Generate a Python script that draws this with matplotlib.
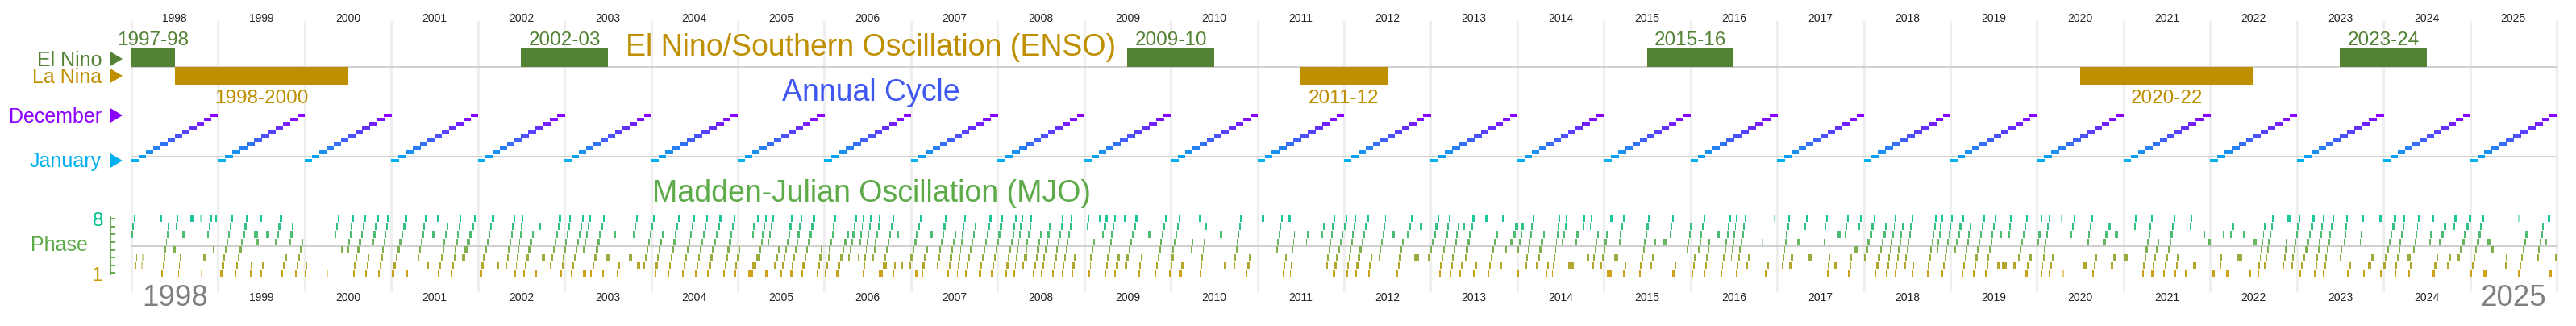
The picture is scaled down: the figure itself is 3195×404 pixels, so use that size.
import matplotlib
matplotlib.use("Agg")
import matplotlib.pyplot as plt
from matplotlib.patches import Polygon
from matplotlib.transforms import blended_transform_factory
import numpy as np

plt.rcParams['font.family'] = ['Liberation Sans', 'DejaVu Sans']

W, H, DPI = 3195, 404, 100

# ---------------------------------------------------------------- data
years = list(range(1998, 2026))
months = list(range(1, 13))
month_names = ["January", "February", "March", "April", "May", "June", "July",
               "August", "September", "October", "November", "December"]

enso_labels = ["1997-98", "1998-2000", "2002-03", "2009-10", "2011-12",
               "2015-16", "2020-22", "2023-24"]
enso_kind = ["El Nino", "La Nina", "El Nino", "El Nino", "La Nina",
             "El Nino", "La Nina", "El Nino"]
enso_start = [1997.5, 1998.5, 2002.5, 2009.5, 2011.5, 2015.5, 2020.5, 2023.5]
enso_end = [1998.5, 2000.5, 2003.5, 2010.5, 2012.5, 2016.5, 2022.5, 2024.5]

# MJO active episodes: (start day of year, first phase, last phase, length in days[, alpha])
mjo_1998 = [(1, 6, 3, 23), (42, 2, 3, 7, .45), (122, 8, 7, 37), (177, 4, 4, 9), (188, 7, 3, 20),
            (215, 6, 6, 9), (249, 8, 8, 11), (290, 8, 1, 6, .45), (301, 3, 3, 13), (320, 6, 8, 19),
            (344, 4, 5, 6), (352, 8, 8, 8)]
mjo_1999 = [(10, 1, 8, 52), (70, 1, 8, 55), (135, 1, 2, 9), (152, 6, 6, 15), (162, 5, 5, 9),
            (177, 8, 8, 6), (180, 1, 2, 11), (204, 6, 6, 10), (240, 5, 8, 28), (265, 1, 3, 24),
            (299, 5, 7, 19), (324, 1, 5, 33)]
mjo_2000 = [(0, 1, 2, 9), (92, 8, 1, 6, .45), (128, 6, 8, 16), (154, 4, 4, 8), (180, 4, 8, 25),
            (203, 1, 3, 17), (222, 4, 8, 37), (256, 1, 3, 15), (282, 5, 8, 31), (311, 1, 8, 43)]
mjo_2001 = [(2, 1, 8, 64), (61, 1, 1, 9), (112, 3, 8, 35), (149, 2, 2, 8), (174, 6, 6, 11),
            (191, 8, 7, 48), (252, 1, 8, 43), (299, 3, 8, 60)]
mjo_2002 = [(8, 1, 8, 58), (80, 2, 2, 8), (116, 2, 8, 41), (155, 1, 8, 36), (190, 1, 6, 45),
            (240, 1, 1, 7), (257, 7, 7, 9), (269, 3, 3, 11), (303, 2, 8, 46), (348, 1, 8, 43)]
mjo_2003 = [(27, 1, 8, 53), (78, 1, 1, 11), (78, 4, 8, 32), (107, 1, 1, 8), (118, 2, 8, 51),
            (158, 1, 1, 7), (175, 3, 3, 17), (206, 6, 6, 8), (220, 1, 2, 11), (271, 3, 3, 14),
            (288, 6, 8, 19), (305, 2, 2, 14), (333, 2, 8, 45)]
mjo_2004 = [(14, 1, 6, 36), (70, 1, 8, 49), (130, 1, 8, 53), (184, 1, 8, 55), (235, 1, 8, 61),
            (303, 1, 8, 51), (349, 1, 4, 26)]
mjo_2005 = [(45, 1, 3, 50), (62, 6, 7, 8), (83, 8, 8, 7), (91, 4, 8, 31), (117, 1, 1, 8),
            (125, 5, 8, 26), (153, 2, 4, 23), (176, 1, 1, 8), (188, 2, 8, 43), (222, 1, 8, 49),
            (266, 1, 8, 59), (332, 1, 4, 25)]
mjo_2006 = [(3, 1, 8, 45), (49, 1, 6, 52), (100, 3, 8, 37), (140, 3, 8, 25), (160, 1, 8, 38),
            (202, 3, 8, 34), (230, 1, 2, 32), (253, 3, 8, 40), (289, 1, 2, 11), (307, 6, 6, 6),
            (321, 2, 2, 9), (355, 2, 8, 56)]
mjo_2007 = [(17, 1, 1, 8), (43, 1, 4, 27), (82, 6, 6, 9), (108, 2, 8, 42), (153, 1, 6, 36),
            (193, 1, 8, 36), (227, 1, 7, 48), (287, 1, 8, 51), (337, 1, 8, 51)]
mjo_2008 = [(32, 1, 8, 48), (68, 1, 8, 37), (100, 2, 3, 23), (117, 4, 8, 28), (149, 1, 6, 36),
            (182, 1, 7, 41), (230, 1, 8, 48), (270, 1, 8, 45), (310, 1, 3, 19)]
mjo_2009 = [(12, 7, 2, 15), (24, 3, 5, 19), (63, 8, 8, 6), (75, 6, 8, 23), (86, 1, 8, 45),
            (126, 1, 3, 23), (166, 8, 8, 6), (172, 2, 8, 51), (228, 1, 3, 14), (268, 6, 6, 11),
            (296, 1, 8, 50), (359, 1, 3, 17)]
mjo_2010 = [(0, 3, 8, 40), (35, 1, 2, 19), (83, 4, 5, 11), (117, 8, 8, 8), (122, 1, 7, 28),
            (207, 6, 6, 9), (224, 2, 2, 6), (264, 2, 8, 34), (315, 1, 3, 23)]
mjo_2011 = [(18, 8, 8, 11), (78, 4, 3, 44), (129, 8, 8, 10), (137, 1, 6, 20), (205, 5, 6, 8),
            (268, 6, 7, 17), (290, 2, 8, 36), (319, 1, 3, 19), (341, 4, 6, 20)]
mjo_2012 = [(0, 7, 8, 12), (10, 1, 8, 39), (44, 1, 8, 59), (101, 1, 3, 17), (146, 3, 8, 31),
            (203, 6, 6, 11), (220, 1, 5, 31), (265, 6, 8, 25), (296, 3, 3, 18), (320, 7, 7, 8),
            (355, 3, 8, 45)]
mjo_2013 = [(35, 1, 8, 48), (80, 1, 7, 40), (120, 1, 2, 14), (137, 7, 7, 8), (143, 3, 8, 40),
            (177, 1, 2, 17), (231, 8, 6, 50), (290, 2, 2, 8), (302, 8, 1, 9), (313, 4, 4, 8),
            (336, 5, 7, 30)]
mjo_2014 = [(0, 4, 7, 25), (0, 1, 1, 7), (33, 2, 8, 37), (78, 2, 6, 37), (118, 1, 2, 14),
            (146, 1, 8, 34), (188, 5, 8, 23), (214, 2, 2, 23), (243, 5, 6, 14), (277, 7, 8, 7),
            (294, 3, 3, 6), (305, 7, 8, 8), (316, 2, 6, 26), (350, 2, 6, 31)]
mjo_2015 = [(14, 1, 1, 17), (27, 8, 8, 7), (42, 3, 3, 17), (62, 5, 8, 23), (82, 1, 2, 11),
            (147, 1, 8, 45), (195, 2, 3, 13), (212, 5, 5, 6), (252, 5, 5, 14), (277, 6, 8, 15),
            (289, 1, 2, 16), (348, 4, 8, 25)]
mjo_2016 = [(6, 1, 3, 15), (32, 4, 8, 28), (57, 1, 5, 25), (113, 6, 6, 8), (127, 1, 8, 41),
            (170, 3, 8, 25), (190, 1, 8, 44), (236, 2, 3, 10), (304, 5, 5, 3, .45), (312, 1, 2, 17),
            (350, 8, 8, 4, .45)]
mjo_2017 = [(19, 2, 8, 34), (51, 2, 3, 14), (85, 5, 5, 11), (116, 7, 8, 11), (133, 3, 3, 14),
            (195, 5, 3, 28), (240, 2, 2, 11), (255, 6, 6, 14), (286, 6, 3, 28), (323, 4, 4, 16),
            (339, 7, 8, 20)]
mjo_2018 = [(0, 3, 8, 49), (45, 1, 7, 53), (94, 1, 8, 42), (130, 1, 7, 36), (170, 2, 8, 37),
            (204, 1, 2, 8), (266, 1, 8, 40), (306, 4, 8, 26), (329, 1, 8, 45)]
mjo_2019 = [(15, 4, 8, 40), (49, 1, 7, 37), (94, 1, 8, 51), (146, 1, 8, 45), (197, 2, 2, 14),
            (208, 6, 6, 9), (219, 2, 2, 17), (240, 5, 8, 17), (264, 2, 2, 14), (287, 3, 8, 37),
            (315, 1, 3, 26)]
mjo_2020 = [(0, 5, 6, 14), (17, 8, 8, 4), (17, 1, 8, 36), (51, 1, 3, 17), (100, 8, 1, 14, .5),
            (142, 6, 8, 17), (193, 2, 2, 14), (210, 5, 8, 26), (232, 1, 3, 19), (278, 5, 7, 31),
            (312, 2, 3, 17), (329, 6, 6, 11)]
mjo_2021 = [(3, 3, 3, 14), (43, 7, 8, 11), (77, 1, 8, 45), (117, 1, 5, 32), (168, 1, 8, 49),
            (213, 1, 3, 20), (259, 1, 1, 9), (279, 7, 8, 8), (293, 2, 2, 11), (336, 6, 6, 8),
            (358, 5, 5, 7)]
mjo_2022 = [(5, 1, 1, 14), (39, 2, 3, 11), (52, 6, 6, 8), (66, 1, 1, 11), (84, 6, 7, 14),
            (115, 3, 3, 17), (137, 6, 6, 11), (163, 1, 1, 8), (180, 5, 5, 14), (200, 1, 7, 31),
            (228, 2, 8, 40), (307, 2, 5, 17), (322, 8, 8, 14), (341, 2, 8, 37)]
mjo_2023 = [(10, 1, 8, 65), (73, 1, 8, 42), (110, 1, 8, 45), (180, 3, 4, 11), (197, 5, 8, 17),
            (211, 1, 2, 15), (265, 5, 1, 19), (300, 2, 3, 25), (348, 8, 8, 8), (350, 1, 1, 11)]
mjo_2024 = [(0, 2, 8, 52), (46, 1, 8, 45), (98, 3, 3, 17), (105, 1, 2, 11), (126, 4, 8, 25),
            (194, 5, 8, 17), (207, 1, 3, 23), (234, 5, 7, 28), (268, 2, 3, 14), (291, 7, 8, 17),
            (313, 3, 8, 54)]
mjo_2025 = [(0, 1, 8, 58), (56, 1, 1, 17), (73, 5, 5, 11), (90, 4, 4, 9), (146, 2, 3, 11),
            (203, 1, 6, 37), (203, 8, 8, 4, .45), (282, 3, 7, 28), (316, 5, 5, 8), (328, 8, 1, 14),
            (357, 3, 3, 11)]

mjo_by_year = {
    1998: mjo_1998, 1999: mjo_1999, 2000: mjo_2000, 2001: mjo_2001, 2002: mjo_2002,
    2003: mjo_2003, 2004: mjo_2004, 2005: mjo_2005, 2006: mjo_2006, 2007: mjo_2007,
    2008: mjo_2008, 2009: mjo_2009, 2010: mjo_2010, 2011: mjo_2011, 2012: mjo_2012,
    2013: mjo_2013, 2014: mjo_2014, 2015: mjo_2015, 2016: mjo_2016, 2017: mjo_2017,
    2018: mjo_2018, 2019: mjo_2019, 2020: mjo_2020, 2021: mjo_2021, 2022: mjo_2022,
    2023: mjo_2023, 2024: mjo_2024, 2025: mjo_2025,
}

# ---------------------------------------------------------------- style
C_NINO = '#548235'
C_NINA = '#BF8F00'
C_JAN = np.array([0, 176, 240]) / 255
C_DEC = np.array([140, 0, 255]) / 255
C_PH1 = np.array([200, 152, 0]) / 255
C_PH8 = np.array([0, 192, 140]) / 255
C_MJO = '#5DAA48'
C_ANN = '#4058F2'
C_LINE = '#C8C8C8'
C_GRID = '#EFEFEF'

X0, X1 = 163, 3171
XMIN, XMAX = 1998, 2026
BAR_PAD_DAYS = 1.3   # drawing width added to each MJO phase block


def rect(x0, y0, x1, y1):
    return [x0 / W, 1 - y1 / H, (x1 - x0) / W, (y1 - y0) / H]


def fy(py):
    return 1 - py / H


fig = plt.figure(figsize=(W / DPI, H / DPI), dpi=DPI)
fig.patch.set_facecolor('white')

# background grid of year boundaries
ax_bg = fig.add_axes(rect(X0, 27, X1, 360))
ax_bg.set_xlim(XMIN, XMAX)
ax_bg.set_ylim(0, 1)
ax_bg.set_axis_off()
for y in range(XMIN, XMAX + 1):
    ax_bg.axvline(y, color=C_GRID, lw=2.4, clip_on=False, zorder=0)

tr_x = blended_transform_factory(ax_bg.transData, fig.transFigure)
for y in years:
    ax_bg.text(y + 0.5, fy(27), str(y), transform=tr_x, ha='center', va='baseline',
               fontsize=10, color='#222222')
    if y in (years[0], years[-1]):
        ax_bg.text(y + 0.5, fy(379), str(y), transform=tr_x, ha='center', va='baseline',
                   fontsize=26.5, color='#808080')
    else:
        ax_bg.text(y + 0.5, fy(373), str(y), transform=tr_x, ha='center', va='baseline',
                   fontsize=10, color='#222222')

# ENSO panel
ax_e = fig.add_axes(rect(X0, 60, X1, 105))
ax_e.set_xlim(XMIN, XMAX)
ax_e.set_ylim(-1, 1)
ax_e.set_axis_off()
ax_e.axhline(0, color=C_LINE, lw=1.2, zorder=1)
tr_e = blended_transform_factory(ax_e.transData, fig.transFigure)
for lab, kind, s, e in zip(enso_labels, enso_kind, enso_start, enso_end):
    nino = kind == "El Nino"
    col = C_NINO if nino else C_NINA
    ax_e.bar(s, 1 if nino else -1, width=e - s, bottom=0, align='edge', color=col, zorder=2)
    xc = (max(s, XMIN) + min(e, XMAX)) / 2
    ax_e.text(xc, fy(55.5 if nino else 127.5), lab, transform=tr_e, ha='center',
              va='baseline', fontsize=17.5, color=col)

# Annual cycle panel
ax_a = fig.add_axes(rect(X0, 140.45, X1, 201.55))
ax_a.set_xlim(XMIN, XMAX)
ax_a.set_ylim(0.5, 12.5)
ax_a.set_axis_off()
ax_a.axhline(1.98, color=C_LINE, lw=1.2, zorder=1)
mcols = [tuple(C_JAN + (C_DEC - C_JAN) * (m - 1) / 11) for m in months]
for y in years:
    ax_a.bar([y + (m - 1) / 12 for m in months], [0.94] * 12, width=1 / 12 + 0.004,
             bottom=[m - 0.47 for m in months], align='edge', color=mcols,
             linewidth=0, zorder=2)

# MJO panel
ax_m = fig.add_axes(rect(X0, 266.2, X1, 343.3))
ax_m.set_xlim(XMIN, XMAX)
ax_m.set_ylim(0.5, 8.5)
ax_m.patch.set_visible(False)
for sp in ('top', 'right', 'bottom'):
    ax_m.spines[sp].set_visible(False)
ax_m.spines['left'].set_position(('outward', 26 * 72 / DPI))
ax_m.spines['left'].set_bounds(0.8, 8.2)
ax_m.spines['left'].set_color(C_MJO)
ax_m.spines['left'].set_linewidth(1.4)
ax_m.set_xticks([])
ax_m.set_yticks(range(1, 9))
ax_m.set_yticklabels([])
ax_m.tick_params(axis='y', direction='in', length=4.6, width=1.4, color=C_MJO)
ax_m.axhline(4.5, color=C_LINE, lw=1.2, zorder=1)
pcols = {p: tuple(C_PH1 + (C_PH8 - C_PH1) * (p - 1) / 7) for p in range(1, 9)}
for y, events in mjo_by_year.items():
    for ev in events:
        start, p0, p1, days = ev[:4]
        alpha = ev[4] if len(ev) > 4 else 0.9
        n = (p1 - p0) % 8 + 1
        d = days / n
        for k in range(n):
            p = (p0 - 1 + k) % 8 + 1
            ax_m.bar(y + (start + k * d) / 365, 0.9, width=(d + BAR_PAD_DAYS) / 365,
                     bottom=p - 0.45, align='edge', color=pcols[p], alpha=alpha,
                     linewidth=0, zorder=2)

# titles
tt = dict(ha='center', va='baseline', fontsize=27)
fig.text(1080 / W, fy(69), "El Nino/Southern Oscillation (ENSO)", color='#BF8F00', **tt)
fig.text(1080 / W, fy(125), "Annual Cycle", color=C_ANN, **tt)
fig.text(1081 / W, fy(250), "Madden-Julian Oscillation (MJO)", color=C_MJO, **tt)

# left labels with arrows
left_labels = [("El Nino", C_NINO, 81.7, 73), ("La Nina", C_NINA, 102.7, 94),
               ("December", tuple(C_DEC), 151.7, 143), ("January", tuple(C_JAN), 207, 199)]
ax_o = fig.add_axes([0, 0, 1, 1])
ax_o.set_xlim(0, W)
ax_o.set_ylim(H, 0)
ax_o.set_axis_off()
for lab, col, base, yc in left_labels:
    fig.text(126 / W, fy(base), lab, ha='right', va='baseline', fontsize=18, color=col)
    ax_o.add_patch(Polygon([(136, yc - 9.5), (152, yc), (136, yc + 9.5)], closed=True,
                           facecolor=col, edgecolor='none'))
fig.text(109 / W, fy(310.7), "Phase", ha='right', va='baseline', fontsize=18, color=C_MJO)
fig.text(128 / W, fy(280), "8", ha='right', va='baseline', fontsize=17.5, color=tuple(C_PH8))
fig.text(127 / W, fy(348), "1", ha='right', va='baseline', fontsize=17.5, color=tuple(C_PH1))

fig.savefig("out.png", dpi=DPI, facecolor='white')
